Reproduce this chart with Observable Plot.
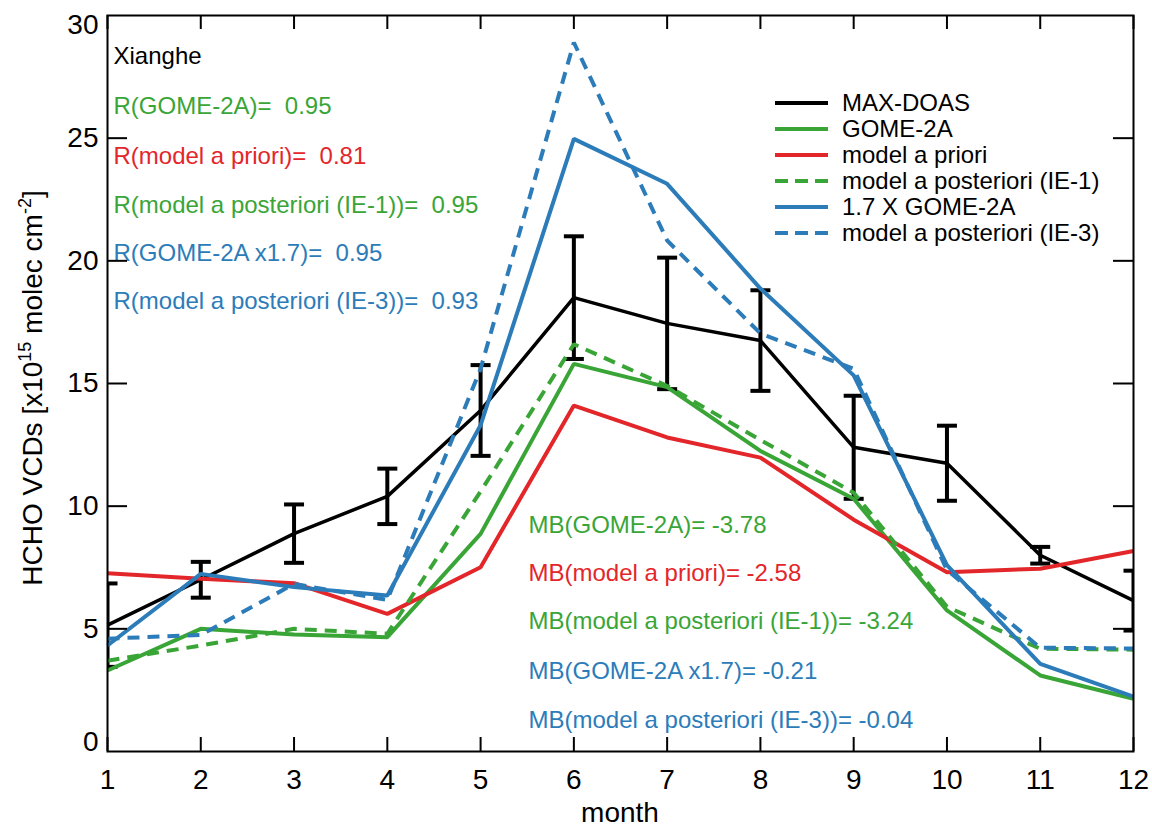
<!DOCTYPE html>
<html><head><meta charset="utf-8">
<script src="https://cdn.jsdelivr.net/npm/d3@7"></script>
<script src="https://cdn.jsdelivr.net/npm/@observablehq/plot@0.6"></script>
<style>
body{margin:0;background:#fff;}
svg text{white-space:pre;}
</style></head><body><div id="chart"></div>
<script>
// ---- data ----
const months = [1,2,3,4,5,6,7,8,9,10,11,12];
const maxdoas    = [5.15, 7.0, 8.88, 10.4, 13.9, 18.5, 17.45, 16.75, 12.4, 11.75, 8.0, 6.15];
const maxdoasErr = [1.7, 0.73, 1.19, 1.13, 1.85, 2.5, 2.68, 2.05, 2.1, 1.53, 0.34, 1.22];
const gome2a     = [3.3, 5.0, 4.77, 4.66, 8.87, 15.8, 14.85, 12.25, 10.3, 5.75, 3.1, 2.15];
const apriori    = [7.27, 7.04, 6.86, 5.61, 7.51, 14.1, 12.8, 11.98, 9.45, 7.31, 7.45, 8.17];
const post1      = [3.7, 4.32, 5.0, 4.8, 10.6, 16.6, 14.9, 12.7, 10.55, 5.9, 4.19, 4.15];
const gome17     = [4.32, 7.24, 6.7, 6.36, 13.3, 24.97, 23.14, 18.87, 15.33, 7.6, 3.57, 2.24];
const post3      = [4.6, 4.75, 6.83, 6.18, 15.6, 28.9, 20.83, 17.04, 15.6, 7.4, 4.23, 4.2];

const seriesNames  = ["MAX-DOAS","GOME-2A","model a priori","model a posteriori (IE-1)","1.7 X GOME-2A","model a posteriori (IE-3)"];
const seriesValues = [maxdoas, gome2a, apriori, post1, gome17, post3];
const GREEN = "#3aa537", RED = "#e3262a", BLUE = "#2c7cb9", BLACK = "#000";
const seriesColors = [BLACK, GREEN, RED, GREEN, BLUE, BLUE];
const seriesDash   = [null, null, null, "12,8", null, "12,8"];

const yTicks = [0,5,10,15,20,25,30];

const statsLeft = ["Xianghe","R(GOME-2A)=  0.95","R(model a priori)=  0.81","R(model a posteriori (IE-1))=  0.95","R(GOME-2A x1.7)=  0.95","R(model a posteriori (IE-3))=  0.93"];
const statsLeftColors = [BLACK, GREEN, RED, GREEN, BLUE, BLUE];
const statsMB = ["MB(GOME-2A)= -3.78","MB(model a priori)= -2.58","MB(model a posteriori (IE-1))= -3.24","MB(GOME-2A x1.7)= -0.21","MB(model a posteriori (IE-3))= -0.04"];
const statsMBColors = [GREEN, RED, GREEN, BLUE, BLUE];

// ---- layout ----
const W = 1152, H = 827, mL = 107, mR = 19, mT = 15, mB = 76;
const innerW = W - mL - mR, innerH = H - mT - mB;
const FONT = "'Liberation Sans', Arial, Helvetica, sans-serif";

const errRows = months.map((m,i)=>({month:m, lo: maxdoas[i]-maxdoasErr[i], hi: maxdoas[i]+maxdoasErr[i]}));
const cap = {draw(ctx, size){ const w = Math.sqrt(size/Math.PI); ctx.moveTo(-w,0); ctx.lineTo(w,0); }};

const lineMarks = seriesValues.map((vals,k)=>Plot.line(months.map((m,i)=>({month:m, v:vals[i]})), {
  x:"month", y:"v", stroke: seriesColors[k], strokeWidth: k===0?3.5:4,
  strokeDasharray: seriesDash[k] ?? undefined, strokeLinejoin:"miter", strokeLinecap:"butt"
}));

const errMarks = [
  Plot.ruleX(errRows, {x:"month", y1:"lo", y2:"hi", stroke:BLACK, strokeWidth:4, clip:true}),
  Plot.dot(errRows, {x:"month", y:"hi", symbol:cap, r:10, stroke:BLACK, strokeWidth:4, fill:"none", clip:true}),
  Plot.dot(errRows, {x:"month", y:"lo", symbol:cap, r:10, stroke:BLACK, strokeWidth:4, fill:"none", clip:true})
];

const leftBaselines = [63,113,163,212,260,308];
const mbBaselines = [532,580,628,678,727];
const textMarks = [
  ...statsLeft.map((t,i)=>Plot.text([t], {text:d=>d, frameAnchor:"top-left", dx:6, dy:leftBaselines[i]-mT, lineAnchor:"bottom", textAnchor:"start", fill:statsLeftColors[i], fontSize:24})),
  ...statsMB.map((t,i)=>Plot.text([t], {text:d=>d, frameAnchor:"top-left", dx:421, dy:mbBaselines[i]-mT, lineAnchor:"bottom", textAnchor:"start", fill:statsMBColors[i], fontSize:24}))
];

const midY = yTicks.filter(v=>v>0 && v<30);
const chart = Plot.plot({
  width: W, height: H, marginLeft: mL, marginRight: mR, marginTop: mT, marginBottom: mB,
  style: {fontFamily: FONT, fontSize: "28px", color: "#000", background: "#fff"},
  x: {domain:[1,12], label:null},
  y: {domain:[0,30], label:null},
  marks: [
    ...textMarks,
    lineMarks[0],
    ...errMarks,
    ...lineMarks.slice(1),
    Plot.frame({stroke:BLACK, strokeWidth:2}),
    Plot.tickY(midY, {y:d=>d, insetRight: innerW-20, stroke:BLACK, strokeWidth:2}),
    Plot.tickY(midY, {y:d=>d, insetLeft: innerW-20, stroke:BLACK, strokeWidth:2}),
    Plot.tickX(months, {x:d=>d, insetTop: innerH-14, stroke:BLACK, strokeWidth:2}),
    Plot.tickX(months, {x:d=>d, insetBottom: innerH-14, stroke:BLACK, strokeWidth:2}),
    Plot.axisY({ticks: midY, tickSize:0, tickPadding:9, label:null}),
    Plot.axisY({ticks: [30], tickSize:0, tickPadding:9, dy:10, label:null}),
    Plot.axisY({ticks: [0], tickSize:0, tickPadding:9, dy:-9, label:null}),
    Plot.axisX({ticks: months, tickSize:0, tickPadding:18, label:null})
  ]
});
document.getElementById("chart").appendChild(chart);

// axis titles
const svg = d3.select(chart);
svg.append("text").attr("x", mL + innerW/2).attr("y", 822).attr("text-anchor","middle")
  .attr("font-family", FONT).attr("font-size", 28).attr("fill","#000").text("month");
const yl = svg.append("text").attr("transform", `translate(42,${mT+innerH/2+5}) rotate(-90)`)
  .attr("text-anchor","middle").attr("font-family", FONT).attr("font-size", 28).attr("fill","#000");
yl.append("tspan").text("HCHO VCDs [x10");
yl.append("tspan").attr("font-size",18).attr("dy",-11).text("15");
yl.append("tspan").attr("dy",11).text(" molec cm");
yl.append("tspan").attr("font-size",18).attr("dy",-11).text("-2");
yl.append("tspan").attr("dy",11).text("]");

// legend
const lg = svg.append("g").attr("text-anchor","start");
seriesNames.forEach((name,i)=>{
  const cy = 103 + i*26;
  const ln = lg.append("line").attr("x1",775).attr("x2",828).attr("y1",cy).attr("y2",cy)
    .attr("stroke", seriesColors[i]).attr("stroke-width",4).attr("fill","none");
  if (seriesDash[i]) ln.attr("stroke-dasharray","13,7");
  lg.append("text").attr("x",842).attr("y",cy).attr("dy","0.35em").attr("text-anchor","start")
    .attr("font-family", FONT).attr("font-size",24).attr("fill","#000").text(name);
});
</script></body></html>
